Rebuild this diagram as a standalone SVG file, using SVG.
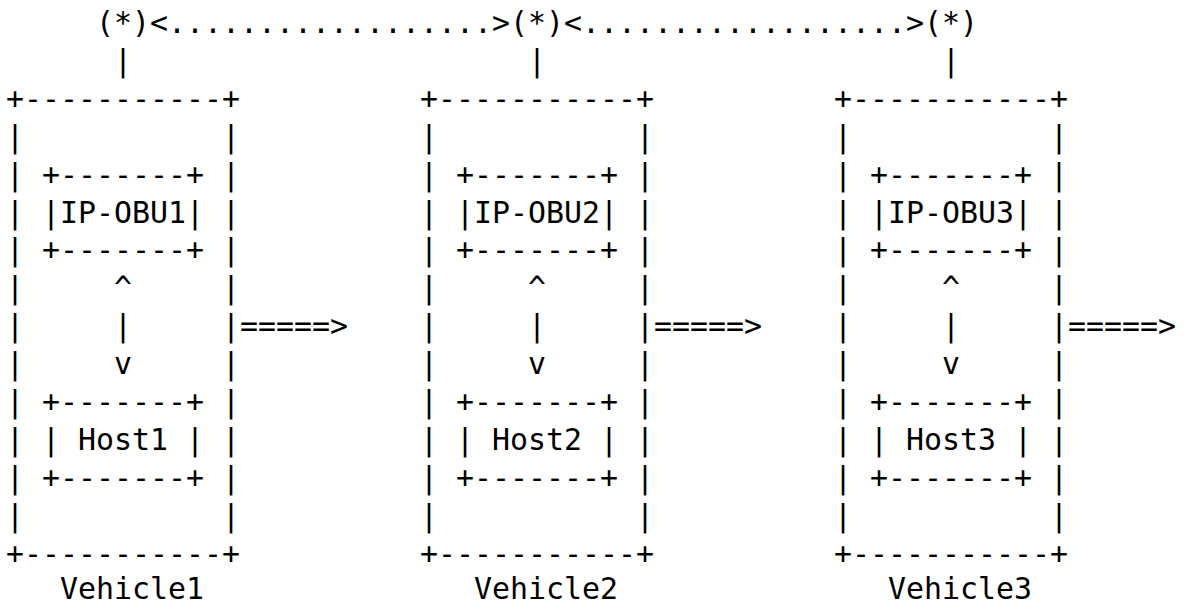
<svg xmlns="http://www.w3.org/2000/svg" width="1184" height="606" viewBox="0 0 1184 606">
<style>
text{font-family:"DejaVu Sans Mono","Liberation Mono",monospace;font-size:29.9px;fill:#000;white-space:pre}
</style>
<rect width="1184" height="606" fill="#fff"/>
<g id="antenna1"><text x="96" y="33">(*)</text></g>
<g id="antenna2"><text x="510" y="33">(*)</text></g>
<g id="antenna3"><text x="924" y="33">(*)</text></g>
<g id="vehicle1">
<text x="6" y="108.8">+-----------+</text>
<text x="6"><tspan x="6" y="146.7">|</tspan><tspan x="6" y="184.6">|</tspan><tspan x="6" y="222.5">|</tspan><tspan x="6" y="260.4">|</tspan><tspan x="6" y="298.3">|</tspan><tspan x="6" y="336.2">|</tspan><tspan x="6" y="374.1">|</tspan><tspan x="6" y="412">|</tspan><tspan x="6" y="449.9">|</tspan><tspan x="6" y="487.8">|</tspan><tspan x="6" y="525.7">|</tspan></text>
<text x="222"><tspan x="222" y="146.7">|</tspan><tspan x="222" y="184.6">|</tspan><tspan x="222" y="222.5">|</tspan><tspan x="222" y="260.4">|</tspan><tspan x="222" y="298.3">|</tspan><tspan x="222" y="336.2">|</tspan><tspan x="222" y="374.1">|</tspan><tspan x="222" y="412">|</tspan><tspan x="222" y="449.9">|</tspan><tspan x="222" y="487.8">|</tspan><tspan x="222" y="525.7">|</tspan></text>
<text x="6" y="563.6">+-----------+</text>
<text x="60" y="598.8">Vehicle1</text>
</g>
<g id="obu1"><text x="42" y="184.6">+-------+</text><text x="42" y="222.5">|IP-OBU1|</text><text x="42" y="260.4">+-------+</text></g>
<g id="host1"><text x="42" y="412">+-------+</text><text x="42" y="449.9">| Host1 |</text><text x="42" y="487.8">+-------+</text></g>
<g id="vehicle2">
<text x="420" y="108.8">+-----------+</text>
<text x="420"><tspan x="420" y="146.7">|</tspan><tspan x="420" y="184.6">|</tspan><tspan x="420" y="222.5">|</tspan><tspan x="420" y="260.4">|</tspan><tspan x="420" y="298.3">|</tspan><tspan x="420" y="336.2">|</tspan><tspan x="420" y="374.1">|</tspan><tspan x="420" y="412">|</tspan><tspan x="420" y="449.9">|</tspan><tspan x="420" y="487.8">|</tspan><tspan x="420" y="525.7">|</tspan></text>
<text x="636"><tspan x="636" y="146.7">|</tspan><tspan x="636" y="184.6">|</tspan><tspan x="636" y="222.5">|</tspan><tspan x="636" y="260.4">|</tspan><tspan x="636" y="298.3">|</tspan><tspan x="636" y="336.2">|</tspan><tspan x="636" y="374.1">|</tspan><tspan x="636" y="412">|</tspan><tspan x="636" y="449.9">|</tspan><tspan x="636" y="487.8">|</tspan><tspan x="636" y="525.7">|</tspan></text>
<text x="420" y="563.6">+-----------+</text>
<text x="474" y="598.8">Vehicle2</text>
</g>
<g id="obu2"><text x="456" y="184.6">+-------+</text><text x="456" y="222.5">|IP-OBU2|</text><text x="456" y="260.4">+-------+</text></g>
<g id="host2"><text x="456" y="412">+-------+</text><text x="456" y="449.9">| Host2 |</text><text x="456" y="487.8">+-------+</text></g>
<g id="vehicle3">
<text x="834" y="108.8">+-----------+</text>
<text x="834"><tspan x="834" y="146.7">|</tspan><tspan x="834" y="184.6">|</tspan><tspan x="834" y="222.5">|</tspan><tspan x="834" y="260.4">|</tspan><tspan x="834" y="298.3">|</tspan><tspan x="834" y="336.2">|</tspan><tspan x="834" y="374.1">|</tspan><tspan x="834" y="412">|</tspan><tspan x="834" y="449.9">|</tspan><tspan x="834" y="487.8">|</tspan><tspan x="834" y="525.7">|</tspan></text>
<text x="1050"><tspan x="1050" y="146.7">|</tspan><tspan x="1050" y="184.6">|</tspan><tspan x="1050" y="222.5">|</tspan><tspan x="1050" y="260.4">|</tspan><tspan x="1050" y="298.3">|</tspan><tspan x="1050" y="336.2">|</tspan><tspan x="1050" y="374.1">|</tspan><tspan x="1050" y="412">|</tspan><tspan x="1050" y="449.9">|</tspan><tspan x="1050" y="487.8">|</tspan><tspan x="1050" y="525.7">|</tspan></text>
<text x="834" y="563.6">+-----------+</text>
<text x="888" y="598.8">Vehicle3</text>
</g>
<g id="obu3"><text x="870" y="184.6">+-------+</text><text x="870" y="222.5">|IP-OBU3|</text><text x="870" y="260.4">+-------+</text></g>
<g id="host3"><text x="870" y="412">+-------+</text><text x="870" y="449.9">| Host3 |</text><text x="870" y="487.8">+-------+</text></g>
<g id="connectors">
<text x="150" y="33">&lt;..................&gt;</text>
<text x="564" y="33">&lt;..................&gt;</text>
<text x="114" y="70.9">|</text>
<text x="528" y="70.9">|</text>
<text x="942" y="70.9">|</text>
<text x="114" y="298.3">^</text><text x="114" y="336.2">|</text><text x="114" y="374.1">v</text>
<text x="528" y="298.3">^</text><text x="528" y="336.2">|</text><text x="528" y="374.1">v</text>
<text x="942" y="298.3">^</text><text x="942" y="336.2">|</text><text x="942" y="374.1">v</text>
<text x="240" y="336.2">=====&gt;</text>
<text x="654" y="336.2">=====&gt;</text>
<text x="1068" y="336.2">=====&gt;</text>
</g>
</svg>
